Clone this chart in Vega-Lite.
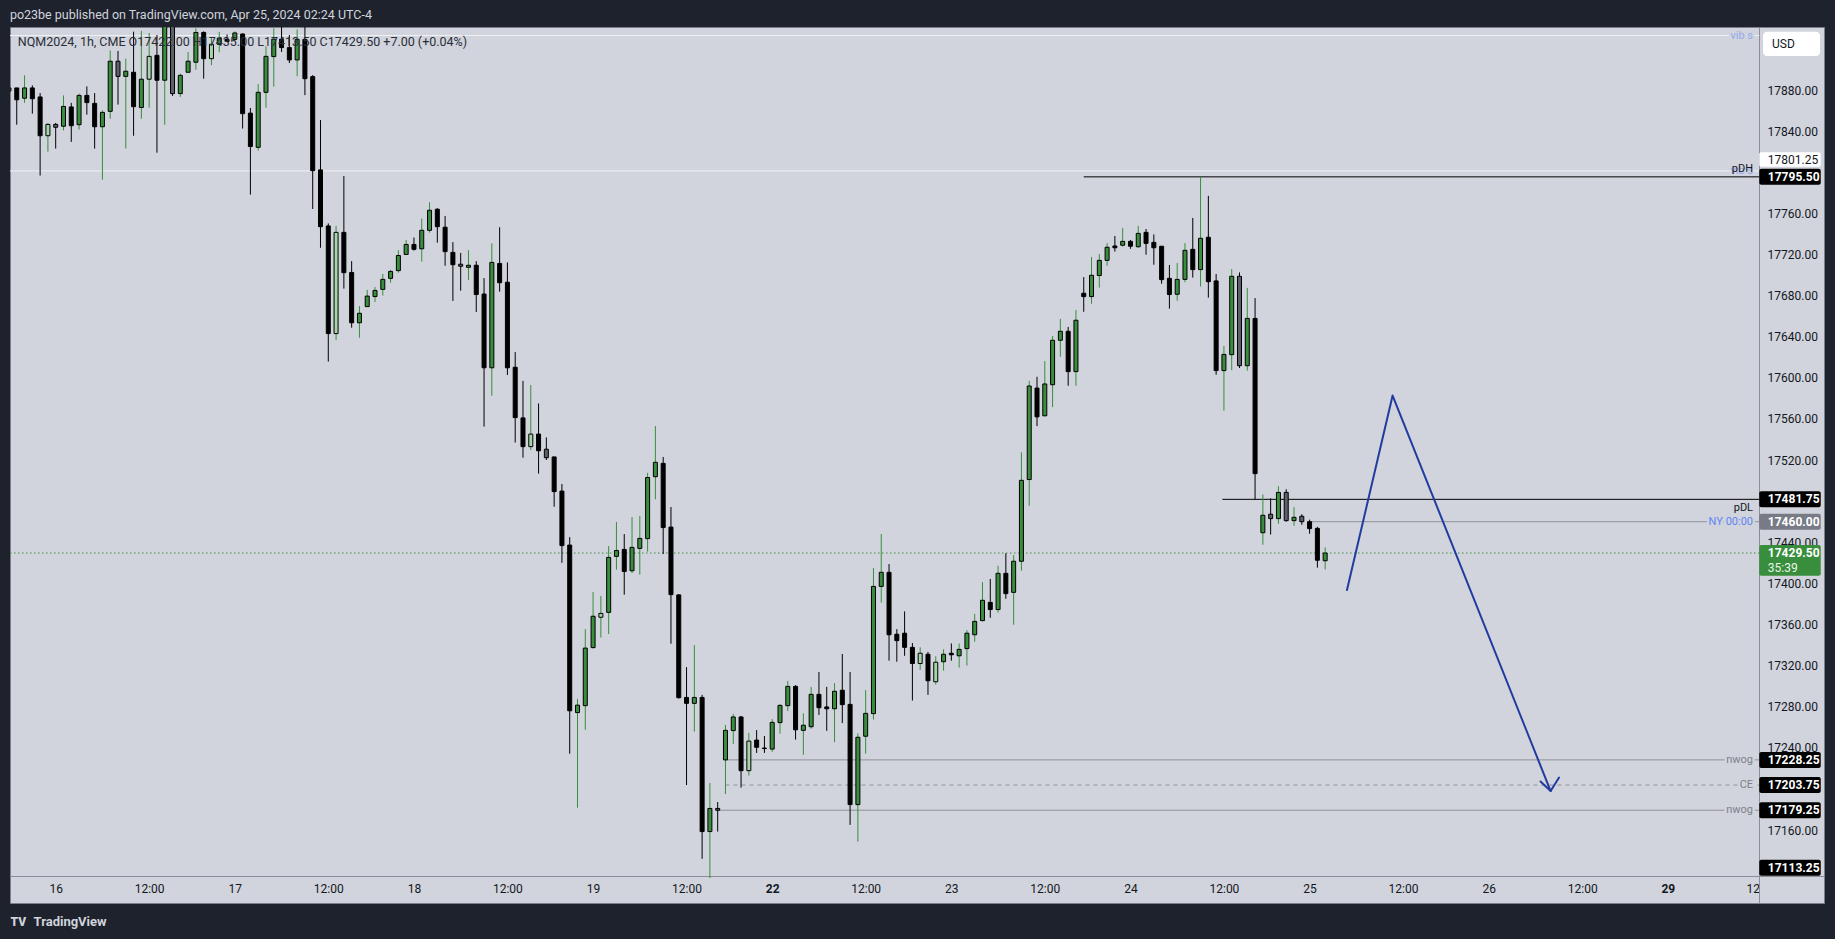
{
  "$schema": "https://vega.github.io/schema/vega-lite/v6.json",
  "width": 1814,
  "height": 876,
  "autosize": "none",
  "padding": {"left": 10, "top": 27, "right": 11, "bottom": 36},
  "background": "#1e222d",
  "config": {"view": {"fill": "#d1d4dc", "stroke": "#7b7f8a", "strokeWidth": 1}, "font": "Roboto"},
  "datasets": {
    "candles": [
      {"i":-6,"o":17879,"h":17883,"l":17877,"c":17882},
      {"i":-5,"o":17882,"h":17882,"l":17846.25,"c":17870.5},
      {"i":-4,"o":17872,"h":17894.25,"l":17867.5,"c":17882},
      {"i":-3,"o":17882,"h":17884.5,"l":17857,"c":17871.5},
      {"i":-2,"o":17873.25,"h":17877,"l":17796.75,"c":17835.5},
      {"i":-1,"o":17835.5,"h":17848,"l":17820,"c":17846.5,"w":1},
      {"i":0,"o":17846.5,"h":17848,"l":17823,"c":17843.75,"w":1},
      {"i":1,"o":17844.75,"h":17874.75,"l":17840.75,"c":17864},
      {"i":2,"o":17863.5,"h":17867.5,"l":17829.5,"c":17845.25},
      {"i":3,"o":17846.25,"h":17876.5,"l":17841.5,"c":17874.75},
      {"i":4,"o":17874.75,"h":17883.5,"l":17856,"c":17867.75},
      {"i":5,"o":17867,"h":17877,"l":17823,"c":17844.25},
      {"i":6,"o":17844.25,"h":17860.25,"l":17792.75,"c":17858.25},
      {"i":7,"o":17859.25,"h":17918.5,"l":17852,"c":17908},
      {"i":8,"o":17908,"h":17918,"l":17865.75,"c":17893.25,"w":1},
      {"i":9,"o":17893.25,"h":17910.5,"l":17823,"c":17898.25},
      {"i":10,"o":17897.25,"h":17936.75,"l":17835.5,"c":17863.75},
      {"i":11,"o":17863,"h":17937.5,"l":17852,"c":17890.5},
      {"i":12,"o":17890.5,"h":17935.5,"l":17862.75,"c":17912.75,"w":1},
      {"i":13,"o":17913.75,"h":17933.5,"l":17819,"c":17889.5},
      {"i":14,"o":17889.5,"h":17965,"l":17846.25,"c":17950},
      {"i":15,"o":17955,"h":17970,"l":17874.25,"c":17876.5,"w":1},
      {"i":16,"o":17876.5,"h":17896,"l":17873.25,"c":17894.25},
      {"i":17,"o":17897.25,"h":17917,"l":17897.25,"c":17908},
      {"i":18,"o":17907,"h":17940,"l":17899.75,"c":17936},
      {"i":19,"o":17936,"h":17937,"l":17891,"c":17910.5},
      {"i":20,"o":17910.5,"h":17931.5,"l":17904.25,"c":17924.5,"w":1},
      {"i":21,"o":17924.5,"h":17936.5,"l":17916.75,"c":17930.5},
      {"i":22,"o":17929.25,"h":17934,"l":17927,"c":17927.25},
      {"i":23,"o":17929.25,"h":17937,"l":17928,"c":17935.5},
      {"i":24,"o":17934.5,"h":17935,"l":17842.5,"c":17857},
      {"i":25,"o":17857.5,"h":17862.5,"l":17778.25,"c":17825},
      {"i":26,"o":17824.25,"h":17885.75,"l":17821,"c":17877.75},
      {"i":27,"o":17877.75,"h":17922.5,"l":17862.75,"c":17912.75},
      {"i":28,"o":17912.5,"h":17940,"l":17883.25,"c":17929.5},
      {"i":29,"o":17929.5,"h":17941.5,"l":17917,"c":17921.25},
      {"i":30,"o":17921.25,"h":17933.5,"l":17906.25,"c":17909.25},
      {"i":31,"o":17909.25,"h":17939,"l":17893.5,"c":17929.25},
      {"i":32,"o":17929.25,"h":17942,"l":17875,"c":17891},
      {"i":33,"o":17893,"h":17894.5,"l":17764.25,"c":17801.5},
      {"i":34,"o":17802.25,"h":17850.75,"l":17726.5,"c":17747},
      {"i":35,"o":17747.75,"h":17750.25,"l":17615.75,"c":17643},
      {"i":36,"o":17643,"h":17747.75,"l":17636.75,"c":17741.5,"w":1},
      {"i":37,"o":17741.5,"h":17796.25,"l":17686.75,"c":17702.25},
      {"i":38,"o":17702.5,"h":17713.5,"l":17648.75,"c":17653.5},
      {"i":39,"o":17653.5,"h":17669.75,"l":17639,"c":17662.75},
      {"i":40,"o":17669.25,"h":17685.5,"l":17669.25,"c":17679.5},
      {"i":41,"o":17679,"h":17688.25,"l":17673.75,"c":17685},
      {"i":42,"o":17686,"h":17701,"l":17680,"c":17695.75},
      {"i":43,"o":17696.75,"h":17705,"l":17692.5,"c":17703.5},
      {"i":44,"o":17704.25,"h":17724.25,"l":17702.25,"c":17719},
      {"i":45,"o":17720,"h":17734,"l":17720,"c":17729.75},
      {"i":46,"o":17729.75,"h":17736.5,"l":17723.75,"c":17725},
      {"i":47,"o":17725.5,"h":17755,"l":17713,"c":17743.5},
      {"i":48,"o":17743.5,"h":17770.75,"l":17741.25,"c":17763},
      {"i":49,"o":17764,"h":17765,"l":17731.5,"c":17747},
      {"i":50,"o":17746.5,"h":17757.5,"l":17709,"c":17722.75},
      {"i":51,"o":17722,"h":17732,"l":17674.75,"c":17710},
      {"i":52,"o":17710.5,"h":17721.5,"l":17684.75,"c":17708.5,"w":1},
      {"i":53,"o":17707.5,"h":17724.25,"l":17695,"c":17709.5},
      {"i":54,"o":17709.5,"h":17713.5,"l":17664,"c":17681},
      {"i":55,"o":17681.5,"h":17697,"l":17552.5,"c":17609.75},
      {"i":56,"o":17609.75,"h":17730.75,"l":17582.5,"c":17712.25},
      {"i":57,"o":17711.25,"h":17746.5,"l":17683.75,"c":17692.5},
      {"i":58,"o":17693,"h":17712.25,"l":17602.75,"c":17609.75},
      {"i":59,"o":17610.25,"h":17625,"l":17537,"c":17561.25},
      {"i":60,"o":17561,"h":17597,"l":17522.25,"c":17533},
      {"i":61,"o":17533,"h":17593,"l":17529.75,"c":17545.25,"w":1},
      {"i":62,"o":17545.25,"h":17575,"l":17506.75,"c":17529},
      {"i":63,"o":17530.5,"h":17542,"l":17520,"c":17522.25,"w":1},
      {"i":64,"o":17523,"h":17523,"l":17474.5,"c":17489.25},
      {"i":65,"o":17489.75,"h":17496.75,"l":17420,"c":17436.75},
      {"i":66,"o":17437.25,"h":17445,"l":17234.25,"c":17276},
      {"i":67,"o":17274.25,"h":17287.5,"l":17181.75,"c":17281.5},
      {"i":68,"o":17281,"h":17355.5,"l":17257.5,"c":17337},
      {"i":69,"o":17337.5,"h":17391.5,"l":17336.5,"c":17368},
      {"i":70,"o":17367,"h":17387.75,"l":17347.25,"c":17370.75,"w":1},
      {"i":71,"o":17371.75,"h":17436.25,"l":17350.75,"c":17425.25},
      {"i":72,"o":17426.25,"h":17459.75,"l":17413.25,"c":17432},
      {"i":73,"o":17433,"h":17448,"l":17389,"c":17411.5},
      {"i":74,"o":17412.25,"h":17464.5,"l":17410,"c":17435},
      {"i":75,"o":17434,"h":17465.5,"l":17408.5,"c":17443.75},
      {"i":76,"o":17443.5,"h":17507.5,"l":17430.75,"c":17503},
      {"i":77,"o":17503.75,"h":17553,"l":17481.75,"c":17517.75},
      {"i":78,"o":17516.75,"h":17523,"l":17428.5,"c":17454.25},
      {"i":79,"o":17454.75,"h":17474.25,"l":17341.25,"c":17389},
      {"i":80,"o":17388.75,"h":17389.5,"l":17288,"c":17288.75},
      {"i":81,"o":17289,"h":17318.5,"l":17203.75,"c":17283.25},
      {"i":82,"o":17283.25,"h":17340,"l":17255.75,"c":17289},
      {"i":83,"o":17289,"h":17291.5,"l":17132,"c":17158.5},
      {"i":84,"o":17158.5,"h":17205.75,"l":17113.25,"c":17181},
      {"i":85,"o":17181,"h":17187.25,"l":17158.5,"c":17179.25,"w":1},
      {"i":86,"o":17228.25,"h":17262.25,"l":17195,"c":17257},
      {"i":87,"o":17256.75,"h":17273,"l":17243.75,"c":17270},
      {"i":88,"o":17270,"h":17271,"l":17201.25,"c":17217.75},
      {"i":89,"o":17217.75,"h":17254.5,"l":17213,"c":17246.5,"w":1},
      {"i":90,"o":17247.5,"h":17257.25,"l":17235,"c":17240.5},
      {"i":91,"o":17239.75,"h":17251.5,"l":17235,"c":17239.25},
      {"i":92,"o":17238.75,"h":17268,"l":17236,"c":17264.75},
      {"i":93,"o":17264.5,"h":17282.5,"l":17253.75,"c":17281.25},
      {"i":94,"o":17281,"h":17305,"l":17275.75,"c":17299.75},
      {"i":95,"o":17299.75,"h":17301,"l":17248,"c":17257.5},
      {"i":96,"o":17257,"h":17273.5,"l":17233.25,"c":17262},
      {"i":97,"o":17260.5,"h":17299.25,"l":17258.5,"c":17292},
      {"i":98,"o":17292,"h":17313.75,"l":17272,"c":17279},
      {"i":99,"o":17279.75,"h":17299.25,"l":17256.5,"c":17278},
      {"i":100,"o":17278,"h":17303,"l":17245.5,"c":17295},
      {"i":101,"o":17296,"h":17331.25,"l":17264,"c":17282},
      {"i":102,"o":17282.25,"h":17313.75,"l":17165,"c":17184.75},
      {"i":103,"o":17184.75,"h":17254,"l":17148.75,"c":17250.25},
      {"i":104,"o":17251.25,"h":17296.25,"l":17234.25,"c":17273.5},
      {"i":105,"o":17273.25,"h":17415,"l":17267.5,"c":17397},
      {"i":106,"o":17397,"h":17448,"l":17381.25,"c":17410.75},
      {"i":107,"o":17410.75,"h":17418.75,"l":17324.75,"c":17350},
      {"i":108,"o":17350.5,"h":17355.5,"l":17323.75,"c":17344.25},
      {"i":109,"o":17351.5,"h":17372.75,"l":17329.5,"c":17337.75},
      {"i":110,"o":17337.75,"h":17342,"l":17286,"c":17322},
      {"i":111,"o":17322,"h":17337.75,"l":17315.75,"c":17332,"w":1},
      {"i":112,"o":17331,"h":17333.25,"l":17291.5,"c":17305.25},
      {"i":113,"o":17304.25,"h":17329,"l":17301.5,"c":17323.25,"w":1},
      {"i":114,"o":17323.75,"h":17335.75,"l":17315,"c":17331},
      {"i":115,"o":17332,"h":17341.5,"l":17324.75,"c":17330.5},
      {"i":116,"o":17329.5,"h":17341.5,"l":17318,"c":17335.75},
      {"i":117,"o":17336.5,"h":17354.5,"l":17320,"c":17351.5},
      {"i":118,"o":17350,"h":17370.25,"l":17343.25,"c":17363},
      {"i":119,"o":17363.75,"h":17401.25,"l":17363,"c":17383.5},
      {"i":120,"o":17381.5,"h":17404.25,"l":17366.5,"c":17374.5},
      {"i":121,"o":17374.5,"h":17417,"l":17371.5,"c":17409.75},
      {"i":122,"o":17409.75,"h":17429.25,"l":17385,"c":17390},
      {"i":123,"o":17391.25,"h":17427.5,"l":17359.75,"c":17421.5},
      {"i":124,"o":17421.5,"h":17527.5,"l":17412.25,"c":17500.25},
      {"i":125,"o":17501,"h":17597,"l":17475.5,"c":17592},
      {"i":126,"o":17590,"h":17601,"l":17553,"c":17562},
      {"i":127,"o":17563,"h":17616.25,"l":17563,"c":17594},
      {"i":128,"o":17593.25,"h":17640.75,"l":17571.5,"c":17636.5},
      {"i":129,"o":17636.5,"h":17657.25,"l":17620.5,"c":17645.25},
      {"i":130,"o":17645.25,"h":17649.5,"l":17592.25,"c":17606},
      {"i":131,"o":17606,"h":17666,"l":17592.25,"c":17656},
      {"i":132,"o":17682.25,"h":17698,"l":17664.25,"c":17679},
      {"i":133,"o":17679,"h":17717.5,"l":17672,"c":17699.75},
      {"i":134,"o":17699.5,"h":17720.5,"l":17687.75,"c":17714.25},
      {"i":135,"o":17714.25,"h":17731,"l":17709,"c":17727},
      {"i":136,"o":17728.25,"h":17738,"l":17722.75,"c":17726.5},
      {"i":137,"o":17729,"h":17745.75,"l":17727.5,"c":17732.75},
      {"i":138,"o":17732.75,"h":17734,"l":17725.5,"c":17728},
      {"i":139,"o":17727.5,"h":17747.75,"l":17726.5,"c":17740.5},
      {"i":140,"o":17741.5,"h":17744.75,"l":17719.75,"c":17730.75},
      {"i":141,"o":17731.75,"h":17739.5,"l":17710,"c":17726.5},
      {"i":142,"o":17728,"h":17728,"l":17691.5,"c":17695.5},
      {"i":143,"o":17696.75,"h":17709.75,"l":17667.25,"c":17681},
      {"i":144,"o":17681.25,"h":17711.75,"l":17675,"c":17695.75},
      {"i":145,"o":17695.75,"h":17731,"l":17693,"c":17724},
      {"i":146,"o":17725,"h":17755.5,"l":17697.5,"c":17705.25},
      {"i":147,"o":17705.25,"h":17795.5,"l":17688.75,"c":17735.75},
      {"i":148,"o":17736.75,"h":17777,"l":17678,"c":17693.5},
      {"i":149,"o":17694.25,"h":17701,"l":17603,"c":17607},
      {"i":150,"o":17607,"h":17631,"l":17568,"c":17622.75},
      {"i":151,"o":17622.5,"h":17705.75,"l":17607.5,"c":17698.75},
      {"i":152,"o":17698.75,"h":17702.5,"l":17609.5,"c":17611.75,"w":1},
      {"i":153,"o":17611.75,"h":17687.5,"l":17607,"c":17657.75},
      {"i":154,"o":17657.75,"h":17677.5,"l":17481.75,"c":17506.75},
      {"i":155,"o":17449.25,"h":17486.5,"l":17437.5,"c":17466.25},
      {"i":156,"o":17467.25,"h":17482.75,"l":17447.5,"c":17463,"w":1},
      {"i":157,"o":17463,"h":17494.5,"l":17458,"c":17488.5},
      {"i":158,"o":17488.5,"h":17491.5,"l":17460,"c":17461,"w":1},
      {"i":159,"o":17461,"h":17474.25,"l":17456,"c":17464.25},
      {"i":160,"o":17465.25,"h":17467.25,"l":17457,"c":17460,"w":1},
      {"i":161,"o":17460,"h":17462,"l":17448.25,"c":17453.25},
      {"i":162,"o":17453.5,"h":17455,"l":17415.25,"c":17422.5},
      {"i":163,"o":17422,"h":17435,"l":17413.5,"c":17429.5}
    ],
    "levels": [
      {"name": "vib s", "price": 17933.0, "from": -6},
      {"name": "vib s", "price": 17801.25, "from": -6},
      {"name": "pDH", "price": 17795.5, "from": 132},
      {"name": "pDL", "price": 17481.75, "from": 149.8},
      {"name": "NY 00:00", "price": 17460.0, "from": 161},
      {"name": "nwog", "price": 17228.25, "from": 86},
      {"name": "CE", "price": 17203.75, "from": 86},
      {"name": "nwog", "price": 17179.25, "from": 85}
    ],
    "tags": [
      {"kind": "vib", "price": 17801.25},
      {"kind": "line", "price": 17795.5},
      {"kind": "line", "price": 17481.75},
      {"kind": "ny", "price": 17460.0},
      {"kind": "last", "price": 17429.5, "note": "35:39"},
      {"kind": "line", "price": 17228.25},
      {"kind": "line", "price": 17203.75},
      {"kind": "line", "price": 17179.25},
      {"kind": "low", "price": 17113.25}
    ],
    "path": [
      {"g": "a", "k": 0, "i": 165.8, "p": 17393.5},
      {"g": "a", "k": 1, "i": 171.66, "p": 17582.7},
      {"g": "a", "k": 2, "i": 191.95, "p": 17197.9},
      {"g": "b", "k": 0, "i": 190.65, "p": 17207.2},
      {"g": "b", "k": 1, "i": 191.95, "p": 17197.9},
      {"g": "b", "k": 2, "i": 193.03, "p": 17211.1}
    ]
  },
  "layer": [
    {
      "data": {"name": "levels"},
      "transform": [{"filter": "datum.name != 'CE'"}],
      "mark": {"type": "rule", "strokeWidth": 1, "clip": true},
      "encoding": {
        "x": {"field": "from", "type": "quantitative", "scale": {"domain": [-5.868, 227.05], "nice": false, "zero": false}, "axis": {
          "orient": "bottom", "offset": -27, "title": null, "grid": false, "ticks": false, "zindex": 0,
          "values": [0, 12, 23, 35, 46, 58, 69, 81, 92, 104, 115, 127, 138, 150, 161, 173, 184, 196, 207, 217.9],
          "labelExpr": "datum.value == 0 ? '16' : datum.value == 23 ? '17' : datum.value == 46 ? '18' : datum.value == 69 ? '19' : datum.value == 92 ? '22' : datum.value == 115 ? '23' : datum.value == 138 ? '24' : datum.value == 161 ? '25' : datum.value == 184 ? '26' : datum.value == 207 ? '29' : datum.value > 217 ? '12' : '12:00'",
          "labelFontWeight": {"condition": {"test": "datum.value == 92 || datum.value == 207", "value": "bold"}, "value": "normal"},
          "labelPadding": 7, "labelFontSize": 12, "labelColor": "#131722", "labelFont": "Roboto",
          "labelFlush": false, "labelOverlap": false, "labelBound": false,
          "domain": true, "domainColor": "#8a8e99", "domainWidth": 1
        }},
        "x2": {"datum": 218.74},
        "y": {"field": "price", "type": "quantitative", "scale": {"domain": [17089.0, 17941.3], "nice": false, "zero": false}, "axis": {
          "orient": "right", "offset": -65, "title": null, "grid": false, "ticks": false, "zindex": 0,
          "values": [17160, 17240, 17280, 17320, 17360, 17400, 17440, 17520, 17560, 17600, 17640, 17680, 17720, 17760, 17840, 17880],
          "format": ".2f", "labelPadding": 8, "labelFontSize": 12, "labelColor": "#131722", "labelFont": "Roboto",
          "labelFlush": false, "labelOverlap": false, "labelBound": false, "labelAlign": "left", "labelBaseline": "middle",
          "domain": true, "domainColor": "#8a8e99", "domainWidth": 1
        }},
        "color": {"condition": [{"test": "datum.name == 'vib s'", "value": "#eef0f4"}, {"test": "datum.name == 'pDH' || datum.name == 'pDL'", "value": "#000000"}], "value": "#8f929b"}
      }
    },
    {
      "data": {"name": "levels"},
      "transform": [{"filter": "datum.name == 'CE'"}],
      "mark": {"type": "rule", "strokeWidth": 1, "strokeDash": [4, 4], "color": "#8f929b", "clip": true},
      "encoding": {
        "x": {"field": "from", "type": "quantitative"},
        "x2": {"datum": 218.74},
        "y": {"field": "price", "type": "quantitative"}
      }
    },
    {
      "data": {"name": "tags"},
      "transform": [{"filter": "datum.kind == 'last'"}],
      "mark": {"type": "rule", "strokeWidth": 1, "strokeDash": [1.5, 2.5], "color": "#388e3c", "clip": true},
      "encoding": {
        "x": {"datum": -5.868},
        "x2": {"datum": 218.74},
        "y": {"field": "price", "type": "quantitative"}
      }
    },
    {
      "data": {"name": "candles"},
      "mark": {"type": "rule", "strokeWidth": 1, "clip": true},
      "encoding": {
        "x": {"field": "i", "type": "quantitative"},
        "y": {"field": "l", "type": "quantitative"},
        "y2": {"field": "h"},
        "color": {"condition": {"test": "datum.c >= datum.o", "value": "#388e3c"}, "value": "#000000"}
      }
    },
    {
      "data": {"name": "candles"},
      "mark": {"type": "rect", "xOffset": -2, "x2Offset": 2, "stroke": "#000000", "strokeWidth": 1, "clip": true},
      "encoding": {
        "x": {"field": "i", "type": "quantitative"},
        "x2": {"field": "i"},
        "y": {"field": "o", "type": "quantitative"},
        "y2": {"field": "c"},
        "fill": {"condition": [
          {"test": "datum.c >= datum.o && datum.w == 1", "value": "#a5d6a7"},
          {"test": "datum.c >= datum.o", "value": "#388e3c"},
          {"test": "datum.w == 1", "value": "#5d606b"}
        ], "value": "#000000"}
      }
    },
    {
      "data": {"name": "path"},
      "mark": {"type": "line", "color": "#213c9f", "strokeWidth": 2, "strokeCap": "round", "strokeJoin": "round", "clip": true},
      "encoding": {
        "x": {"field": "i", "type": "quantitative"},
        "y": {"field": "p", "type": "quantitative"},
        "detail": {"field": "g"},
        "order": {"field": "k"}
      }
    },
    {
      "data": {"name": "levels"},
      "transform": [{"filter": "datum.name == 'NY 00:00' || datum.name == 'nwog' || datum.name == 'CE' || (datum.name == 'vib s' && datum.price > 17900)"}],
      "mark": {"type": "text", "align": "right", "baseline": "middle", "fontSize": 11, "stroke": "#d1d4dc", "strokeWidth": 5, "strokeJoin": "round", "fill": "#d1d4dc"},
      "encoding": {
        "x": {"datum": 217.94},
        "y": {"field": "price", "type": "quantitative"},
        "text": {"field": "name"}
      }
    },
    {
      "data": {"name": "levels"},
      "transform": [{"filter": "datum.name == 'NY 00:00' || datum.name == 'nwog' || datum.name == 'CE' || datum.name == 'vib s'"}],
      "mark": {"type": "text", "align": "right", "baseline": "middle", "fontSize": 11},
      "encoding": {
        "x": {"datum": 217.94},
        "y": {"field": "price", "type": "quantitative"},
        "text": {"field": "name"},
        "color": {"condition": [{"test": "datum.name == 'NY 00:00'", "value": "#5e86f2"}, {"test": "datum.name == 'vib s'", "value": "#93a9ee"}], "value": "#7d818b"}
      }
    },
    {
      "data": {"name": "levels"},
      "transform": [{"filter": "datum.name == 'pDH'"}],
      "mark": {"type": "text", "align": "right", "baseline": "middle", "fontSize": 11, "dy": -8, "color": "#131722"},
      "encoding": {
        "x": {"datum": 217.94},
        "y": {"field": "price", "type": "quantitative"},
        "text": {"field": "name"}
      }
    },
    {
      "data": {"name": "levels"},
      "transform": [{"filter": "datum.name == 'pDL'"}],
      "mark": {"type": "text", "align": "right", "baseline": "middle", "fontSize": 11, "dy": 9, "color": "#131722"},
      "encoding": {
        "x": {"datum": 217.94},
        "y": {"field": "price", "type": "quantitative"},
        "text": {"field": "name"}
      }
    },
    {
      "data": {"name": "tags"},
      "transform": [{"filter": "datum.kind == 'line' || datum.kind == 'ny'"}],
      "mark": {"type": "rect", "yOffset": -8, "y2Offset": 8, "cornerRadius": 2},
      "encoding": {
        "x": {"datum": 218.74},
        "x2": {"datum": 226.63},
        "y": {"field": "price", "type": "quantitative"},
        "y2": {"field": "price"},
        "fill": {"condition": {"test": "datum.kind == 'ny'", "value": "#787b86"}, "value": "#000000"}
      }
    },
    {
      "data": {"name": "tags"},
      "transform": [{"filter": "datum.kind == 'vib'"}],
      "mark": {"type": "rect", "yOffset": -18.6, "y2Offset": -4.2, "cornerRadius": 2, "fill": "#ffffff"},
      "encoding": {
        "x": {"datum": 218.74},
        "x2": {"datum": 226.63},
        "y": {"field": "price", "type": "quantitative"},
        "y2": {"field": "price"}
      }
    },
    {
      "data": {"name": "tags"},
      "transform": [{"filter": "datum.kind == 'low'"}],
      "mark": {"type": "rect", "yOffset": -18.4, "y2Offset": -2.4, "cornerRadius": 2, "fill": "#000000"},
      "encoding": {
        "x": {"datum": 218.74},
        "x2": {"datum": 226.63},
        "y": {"field": "price", "type": "quantitative"},
        "y2": {"field": "price"}
      }
    },
    {
      "data": {"name": "tags"},
      "transform": [{"filter": "datum.kind == 'last'"}],
      "mark": {"type": "rect", "yOffset": -8, "y2Offset": 22.7, "cornerRadius": 2, "fill": "#388e3c"},
      "encoding": {
        "x": {"datum": 218.74},
        "x2": {"datum": 226.63},
        "y": {"field": "price", "type": "quantitative"},
        "y2": {"field": "price"}
      }
    },
    {
      "data": {"name": "tags"},
      "transform": [{"filter": "datum.kind == 'line' || datum.kind == 'ny' || datum.kind == 'last'"}],
      "mark": {"type": "text", "align": "left", "baseline": "middle", "fontSize": 12, "fontWeight": "bold", "color": "#ffffff"},
      "encoding": {
        "x": {"datum": 219.84},
        "y": {"field": "price", "type": "quantitative"},
        "text": {"field": "price", "type": "quantitative", "format": ".2f"}
      }
    },
    {
      "data": {"name": "tags"},
      "transform": [{"filter": "datum.kind == 'last'"}],
      "mark": {"type": "text", "align": "left", "baseline": "middle", "fontSize": 12, "dy": 14.5, "color": "#e8f5e9"},
      "encoding": {
        "x": {"datum": 219.84},
        "y": {"field": "price", "type": "quantitative"},
        "text": {"field": "note"}
      }
    },
    {
      "data": {"name": "tags"},
      "transform": [{"filter": "datum.kind == 'vib'"}],
      "mark": {"type": "text", "align": "left", "baseline": "middle", "fontSize": 12, "dy": -11.4, "color": "#131722"},
      "encoding": {
        "x": {"datum": 219.84},
        "y": {"field": "price", "type": "quantitative"},
        "text": {"field": "price", "type": "quantitative", "format": ".2f"}
      }
    },
    {
      "data": {"name": "tags"},
      "transform": [{"filter": "datum.kind == 'low'"}],
      "mark": {"type": "text", "align": "left", "baseline": "middle", "fontSize": 12, "fontWeight": "bold", "dy": -10.4, "color": "#ffffff"},
      "encoding": {
        "x": {"datum": 219.84},
        "y": {"field": "price", "type": "quantitative"},
        "text": {"field": "price", "type": "quantitative", "format": ".2f"}
      }
    },
    {
      "data": {"values": [{"t": "USD"}]},
      "mark": {"type": "rect", "fill": "#ffffff", "cornerRadius": 4},
      "encoding": {
        "x": {"datum": 219.22},
        "x2": {"datum": 226.54},
        "y": {"datum": 17913.1},
        "y2": {"datum": 17936.7}
      }
    },
    {
      "data": {"values": [{"t": "USD"}]},
      "mark": {"type": "text", "align": "left", "baseline": "middle", "fontSize": 12, "color": "#131722"},
      "encoding": {
        "x": {"datum": 220.37},
        "y": {"datum": 17924.9},
        "text": {"field": "t"}
      }
    },
    {
      "data": {"values": [{"t": "NQM2024, 1h, CME  O17422.00  H17435.00  L17413.50  C17429.50  +7.00 (+0.04%)"}]},
      "mark": {"type": "text", "align": "left", "baseline": "middle", "fontSize": 12.5, "color": "#2a2e39"},
      "encoding": {
        "x": {"datum": -4.866},
        "y": {"datum": 17926.7},
        "text": {"field": "t"}
      }
    },
    {
      "data": {"values": [{"t": "po23be published on TradingView.com, Apr 25, 2024 02:24 UTC-4"}]},
      "mark": {"type": "text", "align": "left", "baseline": "middle", "fontSize": 12.5, "color": "#d1d4dc"},
      "encoding": {
        "x": {"datum": -5.88},
        "y": {"datum": 17953.0},
        "text": {"field": "t"}
      }
    },
    {
      "data": {"values": [{"t": "TradingView"}]},
      "mark": {"type": "text", "align": "left", "baseline": "middle", "fontSize": 13, "fontWeight": "bold", "color": "#d1d4dc"},
      "encoding": {
        "x": {"datum": -2.85},
        "y": {"datum": 17070.5},
        "text": {"field": "t"}
      }
    },
    {
      "data": {"values": [{"t": "TV"}]},
      "mark": {"type": "text", "align": "left", "baseline": "middle", "fontSize": 12, "fontWeight": 900, "color": "#d1d4dc"},
      "encoding": {
        "x": {"datum": -5.79},
        "y": {"datum": 17070.5},
        "text": {"field": "t"}
      }
    }
  ]
}
